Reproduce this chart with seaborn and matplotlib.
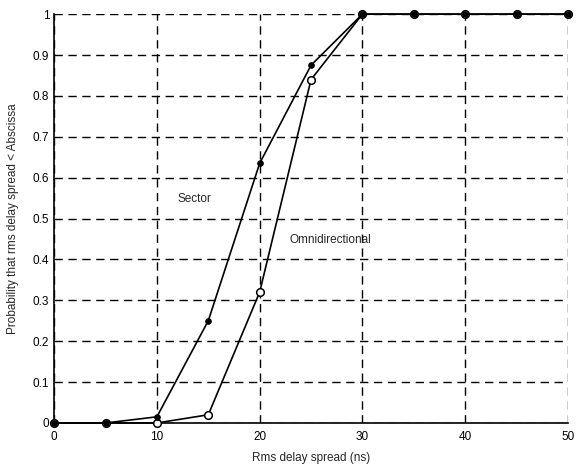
import matplotlib
matplotlib.use("Agg")
import matplotlib.pyplot as plt
import seaborn as sns
import pandas as pd

delay_ns = [0, 5, 10, 15, 20, 25, 30, 35, 40, 45, 50]
sector = [0, 0, 0.015, 0.25, 0.635, 0.875, 1, 1, 1, 1, 1]
omni = [0, 0, 0, 0.02, 0.32, 0.84, 1, 1, 1, 1, 1]
x_ticks = [0, 10, 20, 30, 40, 50]
y_ticks = [0, 0.1, 0.2, 0.3, 0.4, 0.5, 0.6, 0.7, 0.8, 0.9, 1]
y_tick_labels = ["0", "0.1", "0.2", "0.3", "0.4", "0.5", "0.6", "0.7", "0.8", "0.9", "1"]

sns.set_style("white")
plt.rcParams['font.family'] = ['Liberation Sans', 'DejaVu Sans']

fig = plt.figure(figsize=(5.76, 4.71), dpi=100)
ax = fig.add_axes([0.094, 0.102, 0.892, 0.868])

df_s = pd.DataFrame({"x": delay_ns, "y": sector})
df_o = pd.DataFrame({"x": delay_ns, "y": omni})

sns.lineplot(data=df_o, x="x", y="y", ax=ax, color="black", linewidth=1.2,
             marker="o", markersize=5.5, markerfacecolor="white",
             markeredgecolor="black", markeredgewidth=1.1, zorder=3)
sns.lineplot(data=df_s, x="x", y="y", ax=ax, color="black", linewidth=1.2,
             marker="o", markersize=4, markerfacecolor="black",
             markeredgecolor="black", zorder=4)
for ln in ax.lines:
    ln.set_clip_on(False)

ax.set_xlim(0, 50)
ax.set_ylim(0, 1)
ax.set_xticks(x_ticks)
ax.set_yticks(y_ticks)
ax.set_yticklabels(y_tick_labels)
ax.tick_params(axis="both", labelsize=8.5, direction="in", length=3, colors="black")
ax.tick_params(axis="x", pad=6)

ax.grid(True, color="black", linestyle=(0, (6, 4)), linewidth=1.0)
ax.set_axisbelow(True)
for side in ["top", "right"]:
    ax.spines[side].set_visible(False)
for side in ["left", "bottom"]:
    ax.spines[side].set_color("black")
    ax.spines[side].set_linewidth(1.2)

ax.set_xlabel("Rms delay spread (ns)", fontsize=8.5, labelpad=6)
ax.set_ylabel("Probability that rms delay spread < Abscissa", fontsize=8.5, labelpad=10)

ax.text(12.0, 0.547, "Sector", fontsize=8.5, va="center", ha="left")
ax.text(22.9, 0.448, "Omnidirectional", fontsize=8.5, va="center", ha="left")

fig.savefig("out.png", dpi=100)
